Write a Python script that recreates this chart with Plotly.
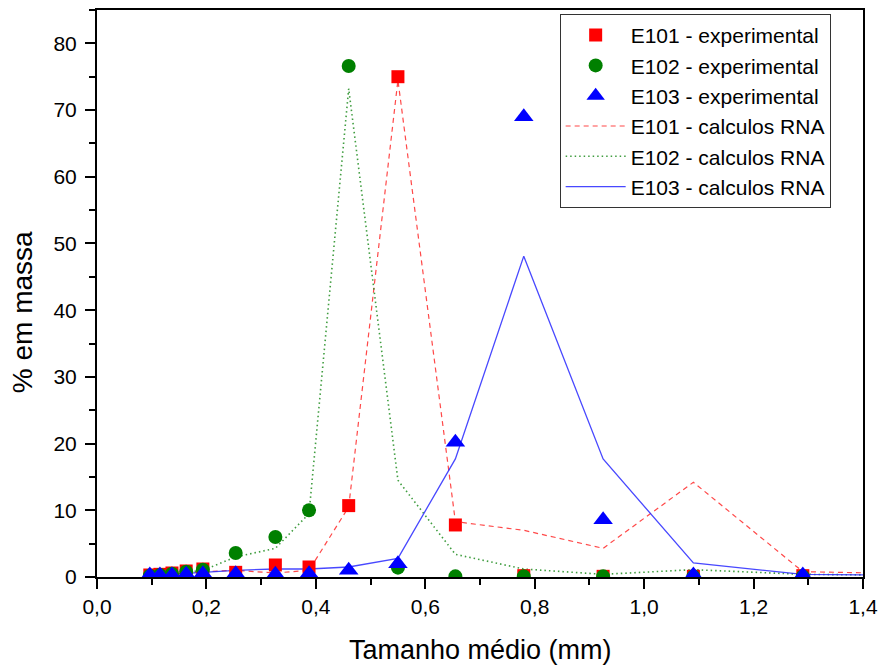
import plotly.graph_objects as go

# Mean particle size of each sieve fraction (mm)
tamanho = [0.0965, 0.115, 0.137, 0.163, 0.1935, 0.2535, 0.326, 0.3875,
           0.46, 0.55, 0.655, 0.78, 0.925, 1.09, 1.29]
# Network outputs also include the coarsest fraction, past the axis end
tamanho_rna = tamanho + [1.55]

# Experimental mass fractions (%)
e101_exp = [0.3, 0.4, 0.6, 0.9, 1.2, 0.7, 1.8, 1.5, 10.7, 75.0, 7.8, 0.2, 0.1, 0.1, 0.2]
e102_exp = [0.2, 0.3, 0.5, 0.8, 1.1, 3.6, 6.0, 10.0, 76.6, 1.4, 0.1, 0.1, 0.1, 0.1, 0.1]
e103_exp = [0.3, 0.3, 0.3, 0.4, 0.5, 0.5, 0.4, 0.5, 1.0, 2.0, 20.2, 69.0, 8.6, 0.3, 0.3]

# Neural-network (RNA) predictions (%)
e101_rna = [0.2, 0.3, 0.4, 0.6, 0.8, 1.0, 0.6, 1.0, 10.5, 74.5, 8.3, 7.0, 4.3, 14.2, 0.8, 0.4]
e102_rna = [0.2, 0.3, 0.5, 0.7, 1.0, 3.0, 4.3, 9.5, 73.2, 14.5, 3.4, 1.2, 0.4, 1.1, 0.4, 0.2]
e103_rna = [0.2, 0.3, 0.4, 0.5, 0.7, 1.0, 1.2, 1.2, 1.5, 2.8, 17.7, 48.1, 17.7, 2.1, 0.4, 0.2]

x_ticks = [0.0, 0.2, 0.4, 0.6, 0.8, 1.0, 1.2, 1.4]
y_ticks = [0, 10, 20, 30, 40, 50, 60, 70, 80]

FONT = "Arial, Liberation Sans, sans-serif"

fig = go.Figure()

# Calculated curves (drawn beneath the markers)
fig.add_trace(go.Scatter(
    x=tamanho_rna, y=e101_rna, mode="lines", name="E101 - calculos RNA",
    line=dict(color="rgba(255,40,40,0.85)", width=1.2, dash="5px,4px"),
    legendrank=4))
fig.add_trace(go.Scatter(
    x=tamanho_rna, y=e102_rna, mode="lines", name="E102 - calculos RNA",
    line=dict(color="rgba(30,140,30,0.85)", width=1.6, dash="1.5px,3px"),
    legendrank=5))
fig.add_trace(go.Scatter(
    x=tamanho_rna, y=e103_rna, mode="lines", name="E103 - calculos RNA",
    line=dict(color="rgba(40,40,255,0.85)", width=1.3),
    legendrank=6))

# Experimental points
fig.add_trace(go.Scatter(
    x=tamanho, y=e101_exp, mode="markers", name="E101 - experimental",
    marker=dict(symbol="square", size=13, color="#FF0000"),
    legendrank=1))
fig.add_trace(go.Scatter(
    x=tamanho, y=e102_exp, mode="markers", name="E102 - experimental",
    marker=dict(symbol="circle", size=14, color="#008000"),
    legendrank=2))
fig.add_trace(go.Scatter(
    x=tamanho, y=e103_exp, mode="markers", name="E103 - experimental",
    marker=dict(symbol="triangle-up", size=17, color="#0000FF"),
    legendrank=3))

axis_common = dict(
    showline=True, linecolor="black", linewidth=2, mirror=True,
    ticks="outside", ticklen=10, tickwidth=1.5, tickcolor="black",
    showgrid=False, zeroline=False,
    tickfont=dict(family=FONT, size=21, color="black"),
)

fig.update_xaxes(
    range=[0, 1.4], tickvals=x_ticks, tickformat=".1f",
    minor=dict(dtick=0.1, ticks="outside", ticklen=6, tickwidth=1.5, tickcolor="black"),
    **axis_common)
fig.update_yaxes(
    range=[0, 85], tickvals=y_ticks, ticklabelstandoff=4,
    minor=dict(dtick=5, ticks="outside", ticklen=6, tickwidth=1.5, tickcolor="black"),
    **axis_common)

# Axis titles
fig.add_annotation(
    text="Tamanho médio (mm)", xref="paper", yref="paper",
    x=0.501, y=-0.128, xanchor="center", yanchor="middle", showarrow=False,
    font=dict(family=FONT, size=27, color="black"))
fig.add_annotation(
    text="% em massa", xref="paper", yref="paper", textangle=-90,
    x=-0.098, y=0.467, xanchor="center", yanchor="middle", showarrow=False,
    font=dict(family=FONT, size=28, color="black"))

fig.update_layout(
    width=886, height=670,
    margin=dict(l=97, r=19, t=8, b=93),
    paper_bgcolor="white", plot_bgcolor="white",
    separators=",.",
    font=dict(family=FONT, color="black"),
    legend=dict(
        x=0.604, y=0.993, xanchor="left", yanchor="top",
        bgcolor="white", bordercolor="#333333", borderwidth=1,
        font=dict(family=FONT, size=21, color="black"),
        tracegroupgap=0, itemwidth=60),
)

fig.write_html("out.html")
